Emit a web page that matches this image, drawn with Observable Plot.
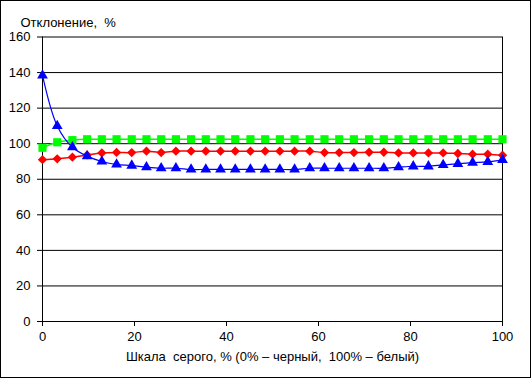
<!DOCTYPE html>
<html>
<head>
<meta charset="utf-8">
<script src="https://cdn.jsdelivr.net/npm/d3@7"></script>
<script src="https://cdn.jsdelivr.net/npm/@observablehq/plot@0.6"></script>
<style>
  html, body { margin: 0; padding: 0; background: #fff; }
  #wrap { position: relative; width: 531px; height: 378px; }
  #border { position: absolute; left: 0; top: 0; width: 531px; height: 378px; box-sizing: border-box; border: 1px solid #000; pointer-events: none; }
  svg { display: block; }
</style>
</head>
<body>
<div id="wrap"><div id="border"></div></div>
<script>
const grayScale = [0, 3.2, 6.5, 9.7, 12.9, 16.1, 19.4, 22.6, 25.8, 29.0, 32.3, 35.5, 38.7, 41.9, 45.2, 48.4,
  51.6, 54.8, 58.1, 61.3, 64.5, 67.7, 71.0, 74.2, 77.4, 80.6, 83.9, 87.1, 90.3, 93.5, 96.8, 100];
const blueSeries = [138.4, 110, 98, 93, 90, 88.3, 87.7, 86.8, 86.2, 86.2, 85.5, 85.5, 85.5, 85.5, 85.5, 85.5,
  85.5, 85.5, 86.2, 86.2, 86.2, 86.2, 86.2, 86.2, 86.8, 87.3, 87.3, 88.1, 88.7, 89.3, 89.8, 90.9];
const redSeries = [91, 91.5, 92.4, 93.7, 94.8, 95.1, 95, 95.8, 95, 95.8, 95.8, 95.8, 95.8, 95.8, 95.8, 95.8,
  95.8, 95.8, 95.8, 95, 95, 95, 95.2, 95.2, 94.8, 94.8, 94.8, 94.8, 94.5, 94.1, 94.1, 93.5];
const greenSeries = [97.7, 100.8, 102, 102.5, 102.5, 102.5, 102.5, 102.5, 102.5, 102.5, 102.5, 102.5, 102.5, 102.5, 102.5, 102.5,
  102.5, 102.5, 102.5, 102.5, 102.5, 102.5, 102.5, 102.5, 102.5, 102.5, 102.5, 102.5, 102.5, 102.5, 102.5, 102.5];
const yTicks = [0, 20, 40, 60, 80, 100, 120, 140, 160];
const xTicks = [0, 20, 40, 60, 80, 100];
const yTitle = "Отклонение,  %";
const xTitle = "Шкала  серого, % (0% – черный,  100% – белый)";

const mk = (ys) => grayScale.map((x, i) => ({x, y: ys[i]}));
const blue = mk(blueSeries), red = mk(redSeries), green = mk(greenSeries);

const chart = Plot.plot({
  width: 531,
  height: 378,
  marginLeft: 42,
  marginRight: 29,
  marginTop: 36.5,
  marginBottom: 57,
  style: {fontFamily: "'Liberation Sans', Arial, sans-serif", fontSize: "13px", color: "#000", background: "#fff"},
  x: {domain: [0, 100]},
  y: {domain: [0, 160]},
  marks: [
    Plot.gridY(yTicks, {stroke: "#000", strokeOpacity: 1, strokeWidth: 1}),
    Plot.ruleX([0, 100], {stroke: "#000", strokeWidth: 1}),
    Plot.axisY(yTicks, {tickSize: 5, tickPadding: 7, label: null, stroke: "#000", fill: "#000"}),
    Plot.axisX(xTicks, {tickSize: 5, tickPadding: 5, label: null, stroke: "#000", fill: "#000"}),
    Plot.line(green, {x: "x", y: "y", stroke: "#00FF00", strokeWidth: 1.5, curve: "catmull-rom"}),
    Plot.dot(green, {x: "x", y: "y", symbol: "square", r: 4.6, fill: "#00FF00", stroke: "none"}),
    Plot.line(red, {x: "x", y: "y", stroke: "#FF0000", strokeWidth: 1.5, curve: "catmull-rom"}),
    Plot.dot(red, {x: "x", y: "y", symbol: "diamond2", r: 4.2, fill: "#FF0000", stroke: "none"}),
    Plot.line(blue, {x: "x", y: "y", stroke: "#0000FF", strokeWidth: 1.2, curve: "catmull-rom"}),
    Plot.dot(blue, {x: "x", y: "y", symbol: "triangle", r: 4, fill: "#0000FF", stroke: "none"}),
    Plot.text([yTitle], {frameAnchor: "top-left", dx: -22, dy: -19.5, textAnchor: "start", fill: "#000"}),
    Plot.text([xTitle], {frameAnchor: "bottom", dy: 39, fill: "#000"})
  ]
});
document.getElementById("wrap").prepend(chart);
</script>
</body>
</html>
